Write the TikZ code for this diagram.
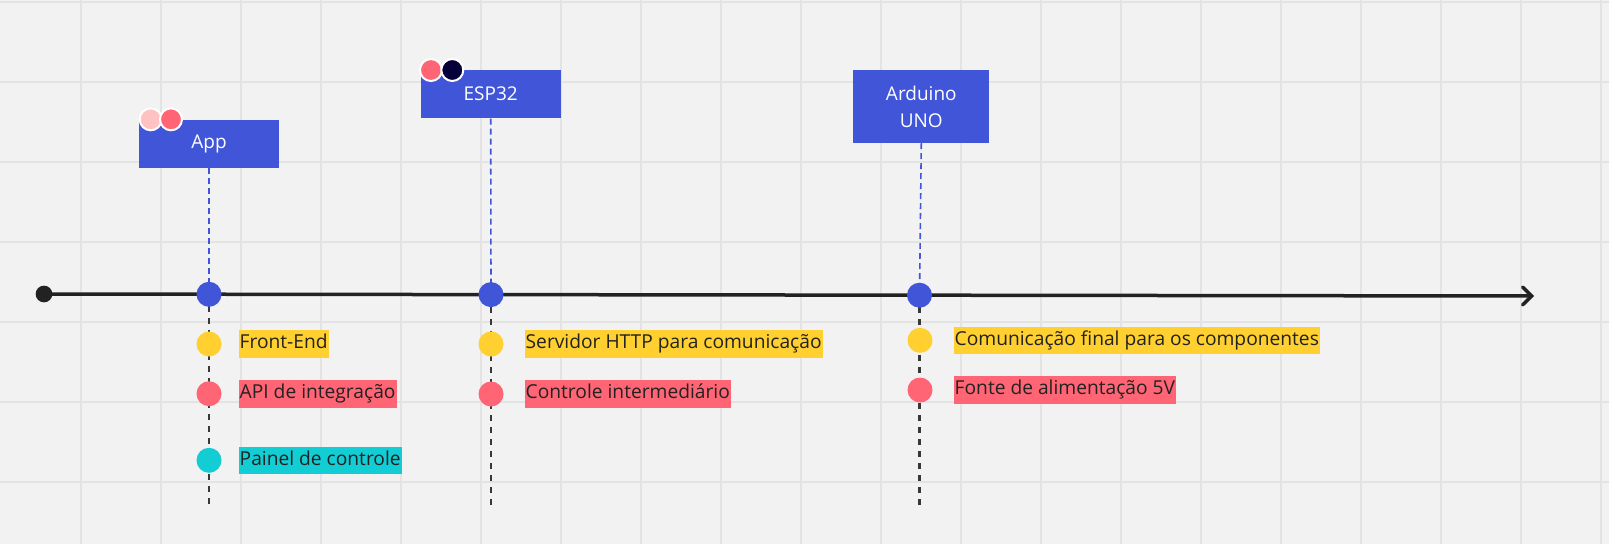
\documentclass[tikz,border=0pt]{standalone}
\usepackage{fontspec}
\setmainfont{Open Sans}
\usetikzlibrary{positioning,calc,arrows.meta,backgrounds}
\definecolor{boardgray}{HTML}{F2F2F2}
\definecolor{gridgray}{HTML}{E3E3E3}
\definecolor{stickyblue}{HTML}{4055D8}
\definecolor{stickyyellow}{HTML}{FFD02F}
\definecolor{stickyred}{HTML}{FF6575}
\definecolor{stickycyan}{HTML}{12CDD4}
\definecolor{lightpink}{HTML}{FFC2C2}
\definecolor{darknavy}{HTML}{050038}
\definecolor{inkgray}{HTML}{222222}

\tikzset{
	stage/.style={rectangle,fill=stickyblue,text=white,font=\fontsize{19}{27}\selectfont,align=center,inner sep=0pt},
	bigdot/.style={circle,fill=stickyblue,minimum size=25pt,inner sep=0pt},
	itemdot/.style={circle,minimum size=25pt,inner sep=0pt},
	avatar/.style={circle,draw=white,line width=2pt,minimum size=22pt,inner sep=0pt},
	tag/.style={rectangle,anchor=west,inner xsep=1pt,inner ysep=0pt,minimum height=27.6pt,text=inkgray,font=\fontsize{19.2}{21}\selectfont,text height=14pt,text depth=4.5pt},
	stem/.style={stickyblue,dash pattern=on 6pt off 4pt,line width=1.6pt},
	tail/.style={inkgray!90!white,dash pattern=on 6pt off 6pt,line width=2.4pt}
}

\begin{document}
\begin{tikzpicture}[x=1pt,y=-1pt]
	\useasboundingbox (0,0) rectangle (1609,544);
	
	% timeline
	\node[circle,fill=inkgray,minimum size=16.7pt,inner sep=0pt] (start) at (44,294) {};
	\coordinate (tip) at (1534,296);
	
	\node[bigdot] (app) at (209,294.3) {};
	\node[bigdot] (esp) at (491,294.6) {};
	\node[bigdot] (uno) at (919.5,295.2) {};
	
	% stage boxes
	\node[stage,minimum width=140pt,minimum height=47.7pt] (appbox) at (209,143.9) {App};
	\node[stage,minimum width=140pt,minimum height=48.3pt] (espbox) at (490.7,94.2) {ESP32};
	\node[stage,minimum width=136pt,minimum height=73pt] (unobox) at (921.3,106.5) {Arduino\\UNO};
	
	\node[avatar,fill=lightpink] (appava) at (150.7,119.3) {};
	\node[avatar,fill=stickyred] (appavb) at (171,119.3) {};
	\node[avatar,fill=stickyred] (espava) at (431,70) {};
	\node[avatar,fill=darknavy] (espavb) at (452.3,70) {};
	
	% App items
	\node[itemdot,fill=stickyyellow] (appa) at (209,344) {};
	\node[itemdot,fill=stickyred] (appb) at (209,393.7) {};
	\node[itemdot,fill=stickycyan] (appc) at (209,460.3) {};
	\node[tag,fill=stickyyellow,right=16.8pt of appa] (appta) {Front-End};
	\node[tag,fill=stickyred,right=16.8pt of appb] (apptb) {API de integração};
	\node[tag,fill=stickycyan,right=16.8pt of appc] (apptc) {Painel de controle};
	
	% ESP32 items
	\node[itemdot,fill=stickyyellow] (espa) at (491,344) {};
	\node[itemdot,fill=stickyred] (espb) at (491,394) {};
	\node[tag,fill=stickyyellow,right=20.8pt of espa] (espta) {Servidor HTTP para comunicação};
	\node[tag,fill=stickyred,right=20.8pt of espb] (esptb) {Controle intermediário};
	
	% Arduino items
	\node[itemdot,fill=stickyyellow] (unoa) at (920,340.3) {};
	\node[itemdot,fill=stickyred] (unob) at (920,390) {};
	\node[tag,fill=stickyyellow,right=20.8pt of unoa] (unota) {Comunicação final para os componentes};
	\node[tag,fill=stickyred,right=20.8pt of unob] (unotb) {Fonte de alimentação 5V};
	
	\coordinate (append) at (209,506);
	\coordinate (espend) at (491,506);
	\coordinate (unoend) at (919.5,506);
	
	\begin{scope}[on background layer]
		\fill[boardgray] (0,0) rectangle (1609,544);
		\foreach \gx in {1,...,20} \draw[gridgray,line width=1.5pt] (80*\gx+1,0) -- (80*\gx+1,544);
		\foreach \gy in {0,...,6} \draw[gridgray,line width=1.5pt] (0,80*\gy+2) -- (1609,80*\gy+2);
		
		\draw[stem] (appbox.south) -- (app.center);
		\draw[stem] (espbox.south) -- (esp.center);
		\draw[stem] (unobox.south) -- (uno.center);
		
		\draw[tail] (app.center) -- (append);
		\draw[tail] (esp.center) -- (espend);
		\draw[tail] (uno.center) -- (unoend);
		
		\draw[inkgray,line width=3.5pt,-{Straight Barb[length=9pt,width=18pt,line cap=round]}] (start.center) -- (tip);
	\end{scope}
\end{tikzpicture}
\end{document}
